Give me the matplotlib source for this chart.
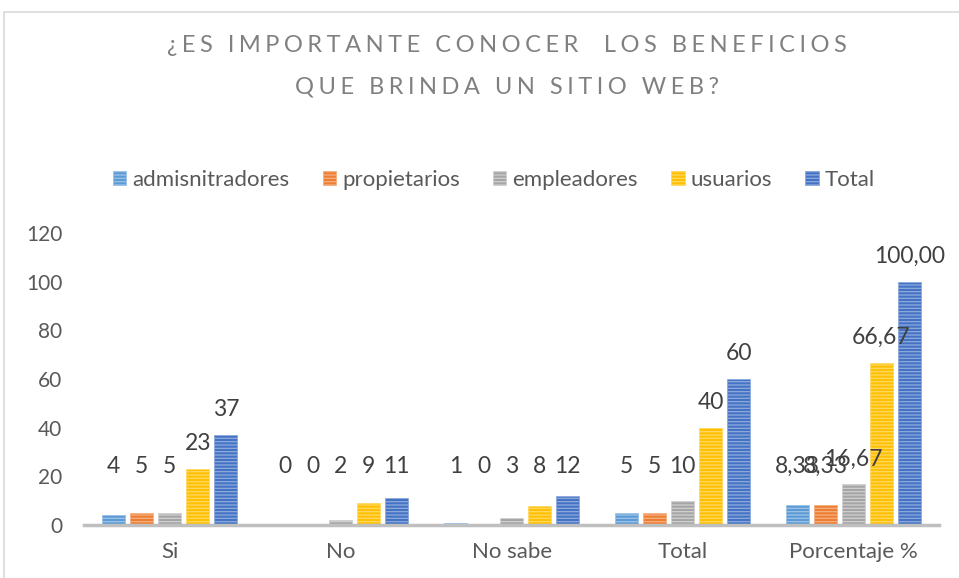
import matplotlib.pyplot as plt
import matplotlib.patches as mpatches
import numpy as np

categories = ["Si", "No", "No sabe", "Total", "Porcentaje %"]
series = ["admisnitradores", "propietarios", "empleadores", "usuarios", "Total"]
admin = [4, 0, 1, 5, 8.33]
propietarios = [5, 0, 0, 5, 8.33]
empleadores = [5, 2, 3, 10, 16.67]
usuarios = [23, 9, 8, 40, 66.67]
total = [37, 11, 12, 60, 100.00]
labels_text = [
    ["4", "0", "1", "5", "8,33"],
    ["5", "0", "0", "5", "8,33"],
    ["5", "2", "3", "10", "16,67"],
    ["23", "9", "8", "40", "66,67"],
    ["37", "11", "12", "60", "100,00"],
]

colors = ["#5B9BD5", "#ED7D31", "#A5A5A5", "#FFC000", "#4472C4"]
stripe = ["#9DC3E6", "#F4B183", "#D0D0D0", "#FFD966", "#8FAADC"]

plt.rcParams['font.family'] = ['Lato', 'DejaVu Sans']
plt.rcParams['hatch.linewidth'] = 0.9

fig = plt.figure(figsize=(9.59, 5.78), dpi=100)
ax = fig.add_axes([0.088, 0.0917, 0.891, 0.5053])

# outer chart border
fig.patches.append(mpatches.Rectangle((0.004, -0.01), 1.0, 0.99, transform=fig.transFigure,
                                      fill=False, edgecolor="#D9D9D9", linewidth=1.2))

x = np.arange(len(categories))
step = 0.164
width = 0.134
data = [admin, propietarios, empleadores, usuarios, total]
for i, vals in enumerate(data):
    pos = x + (i - 2) * step
    ax.bar(pos, vals, width, color=colors[i], edgecolor=stripe[i], hatch="-----",
           linewidth=0.6, label=series[i])
    for p, v, t in zip(pos, vals, labels_text[i]):
        ax.text(p, max(v + 10.5, 24), t, ha="center", va="center",
                fontsize=16.5, color="#404040")

ax.set_xlim(-0.5, len(categories) - 0.5)
ax.set_ylim(0, 120)
ax.set_yticks(range(0, 121, 20))
ax.set_xticks(x)
ax.set_xticklabels(categories)
ax.tick_params(axis="y", length=0, labelsize=15, colors="#595959", pad=16)
ax.tick_params(axis="x", length=0, labelsize=16, colors="#595959", pad=12)
for s in ["top", "right", "left"]:
    ax.spines[s].set_visible(False)
ax.spines["bottom"].set_color("#BFBFBF")
ax.spines["bottom"].set_linewidth(2.5)

leg = fig.legend(loc="center", bbox_to_anchor=(0.515, 0.689), ncol=5, frameon=False,
                 fontsize=16, handlelength=0.6, handleheight=0.63, handletextpad=0.27,
                 columnspacing=1.5)
for t in leg.get_texts():
    t.set_color("#595959")

gap = "\u2009\u200a"
title1 = gap.join("¿ES IMPORTANTE CONOCER  LOS BENEFICIOS")
title2 = gap.join("QUE BRINDA UN SITIO WEB?")
fig.text(0.529, 0.921, title1, ha="center", va="center", fontsize=17, color="#808080")
fig.text(0.529, 0.850, title2, ha="center", va="center", fontsize=17, color="#808080")

fig.savefig("out.png", dpi=100)
